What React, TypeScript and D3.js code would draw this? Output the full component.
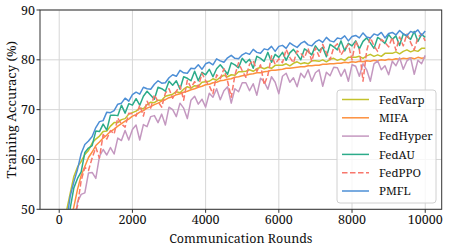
import React from "react";
import * as d3 from "d3";

// communication rounds, one point every 100 rounds
const rounds = d3.range(100, 10001, 100);

const fedVarp = [
  46, 49.7, 53.2, 56.6, 58.5, 59.6, 61.0, 61.8, 63.3, 64.1,
  64.7, 65.6, 65.7, 66.7, 67.4, 67.4, 68.0, 68.2, 69.1, 69.4,
  69.7, 70.3, 70.2, 71.0, 71.5, 71.4, 71.9, 71.9, 72.7, 72.9,
  73.1, 73.6, 73.4, 74.1, 74.6, 74.3, 74.8, 74.7, 75.5, 75.6,
  75.7, 76.2, 75.9, 76.5, 76.9, 76.6, 77.0, 76.9, 77.6, 77.6,
  77.7, 78.0, 77.7, 78.2, 78.5, 78.2, 78.5, 78.3, 78.9, 78.9,
  78.9, 79.2, 78.8, 79.3, 79.6, 79.2, 79.4, 79.2, 79.8, 79.8,
  79.7, 80.0, 79.6, 80.1, 80.3, 79.9, 80.2, 79.9, 80.5, 80.5,
  80.5, 80.7, 80.3, 80.8, 81.1, 80.7, 81.0, 80.7, 81.3, 81.3,
  81.3, 81.6, 81.2, 81.7, 82.0, 81.6, 81.9, 81.7, 82.3, 82.3,
];

const mifa = [
  40, 44, 47.5, 50.5, 54.0, 56.8, 58.6, 60.4, 61.5, 62.8,
  63.5, 64.3, 64.9, 65.6, 66.1, 66.7, 67.2, 67.7, 68.1, 68.7,
  69.0, 69.5, 69.8, 70.3, 70.6, 71.0, 71.3, 71.7, 72.0, 72.4,
  72.6, 73.0, 73.2, 73.5, 73.7, 74.0, 74.2, 74.5, 74.7, 75.0,
  75.1, 75.4, 75.5, 75.8, 75.9, 76.1, 76.2, 76.5, 76.6, 76.8,
  76.9, 77.1, 77.2, 77.4, 77.4, 77.6, 77.7, 77.9, 77.9, 78.0,
  78.1, 78.3, 78.3, 78.4, 78.5, 78.6, 78.6, 78.8, 78.8, 78.9,
  78.9, 79.1, 79.1, 79.2, 79.2, 79.3, 79.3, 79.5, 79.4, 79.6,
  79.5, 79.7, 79.6, 79.8, 79.7, 79.9, 79.8, 80.0, 79.9, 80.1,
  80.0, 80.2, 80.1, 80.3, 80.2, 80.4, 80.2, 80.5, 80.3, 80.4,
];

const fedHyper = [
  36.8, 39.0, 44.3, 45.3, 51.5, 53.0, 53.3, 57.3, 57.4, 56.2,
  60.6, 62.0, 60.9, 62.4, 61.1, 64.3, 63.8, 65.8, 63.9, 66.0,
  66.9, 63.9, 67.0, 66.6, 68.6, 68.8, 67.4, 69.1, 66.9, 70.5,
  70.0, 68.6, 71.3, 70.3, 68.2, 71.9, 72.7, 71.1, 72.1, 70.5,
  73.3, 72.5, 74.2, 72.0, 73.8, 74.6, 71.3, 74.2, 73.6, 75.4,
  75.4, 73.8, 75.2, 72.9, 76.3, 75.6, 74.1, 76.6, 75.5, 73.2,
  76.7, 77.3, 75.5, 76.4, 74.6, 77.3, 76.4, 78.0, 75.7, 77.4,
  78.0, 74.7, 77.5, 76.8, 78.5, 78.4, 76.7, 78.1, 75.7, 79.0,
  78.7, 76.7, 79.2, 78.0, 75.7, 79.2, 79.8, 78.0, 78.8, 77.0,
  79.7, 78.8, 80.4, 78.1, 79.8, 80.4, 77.1, 79.9, 79.2, 80.9,
];

const fedAU = [
  42.5, 44.8, 50.2, 54.3, 56.2, 57.5, 61.4, 62.3, 62.8, 65.7,
  65.6, 67.1, 65.9, 68.9, 68.9, 68.8, 70.9, 69.3, 71.2, 70.9,
  72.2, 70.9, 72.7, 73.7, 72.9, 72.1, 74.5, 74.2, 73.7, 75.7,
  74.9, 75.8, 74.1, 76.6, 76.3, 75.8, 77.7, 75.8, 77.5, 77.0,
  78.1, 76.6, 78.2, 79.0, 78.1, 77.1, 79.4, 79.0, 78.4, 80.3,
  79.4, 80.1, 78.3, 80.7, 80.3, 79.7, 81.5, 79.5, 81.1, 80.5,
  81.5, 79.9, 81.4, 82.1, 81.1, 80.0, 82.2, 81.7, 81.0, 82.8,
  81.8, 82.5, 80.6, 83.1, 82.6, 82.0, 83.8, 81.8, 83.3, 82.8,
  83.8, 82.2, 83.7, 84.4, 83.4, 82.3, 84.5, 84.0, 83.3, 85.1,
  84.1, 84.8, 82.9, 85.2, 84.7, 84.1, 85.7, 83.7, 85.1, 84.5,
];

const fedPPO = [
  39.0, 41.2, 47.0, 48.7, 50.7, 55.8, 58.4, 57.8, 60.3, 62.4,
  60.3, 65.0, 64.1, 65.8, 65.1, 68.3, 67.1, 66.5, 69.3, 69.2,
  68.7, 70.9, 68.7, 71.7, 70.3, 73.0, 71.6, 70.5, 73.3, 74.2,
  72.3, 73.7, 74.8, 71.9, 75.9, 74.4, 75.6, 74.5, 77.3, 75.8,
  74.8, 73.2, 77.0, 76.2, 78.2, 75.7, 72.5, 76.9, 79.4, 77.8,
  76.5, 79.1, 79.9, 77.7, 79.0, 75.0, 76.9, 80.8, 79.1, 80.2,
  79.4, 82.1, 80.5, 79.4, 81.8, 81.3, 80.4, 82.3, 79.7, 82.4,
  80.7, 83.1, 81.4, 80.0, 82.5, 83.2, 81.0, 82.2, 83.1, 80.0,
  83.8, 82.1, 75.7, 81.8, 84.5, 82.8, 81.7, 84.1, 83.5, 82.6,
  84.5, 81.9, 84.6, 82.8, 85.2, 83.5, 82.0, 84.5, 85.2, 83.8,
];

const pmfl = [
  44.3, 47.6, 52.6, 55.5, 58.0, 61.2, 63.0, 63.7, 64.6, 66.4,
  67.6, 67.8, 69.5, 69.4, 69.8, 71.1, 71.3, 72.3, 71.7, 73.0,
  73.5, 73.1, 74.5, 74.2, 74.1, 75.1, 75.8, 75.3, 75.4, 76.4,
  77.0, 76.7, 77.9, 77.4, 77.3, 78.3, 78.2, 79.0, 78.1, 79.2,
  79.5, 79.0, 80.2, 79.8, 79.5, 80.4, 80.9, 80.3, 80.2, 81.0,
  81.4, 81.1, 82.1, 81.5, 81.3, 82.2, 82.0, 82.7, 81.7, 82.7,
  82.9, 82.3, 83.4, 82.9, 82.5, 83.3, 83.7, 83.0, 82.8, 83.6,
  84.0, 83.5, 84.5, 83.8, 83.6, 84.4, 84.2, 84.8, 83.8, 84.7,
  84.9, 84.4, 85.4, 84.6, 84.4, 85.2, 84.9, 85.5, 84.4, 85.3,
  85.5, 85.0, 85.9, 85.2, 84.9, 85.7, 85.4, 86.0, 84.9, 85.8,
];

const seriesNames = ["FedVarp", "MIFA", "FedHyper", "FedAU", "FedPPO", "PMFL"];
const seriesValues = [fedVarp, mifa, fedHyper, fedAU, fedPPO, pmfl];
const seriesColors = ["#c3c22c", "#fd903e", "#c498c0", "#2cab8a", "#f8776c", "#4d8fd6"];
const xTicks = [0, 2000, 4000, 6000, 8000, 10000];
const yTicks = [50, 60, 70, 80, 90];

const W = 449;
const H = 249;
const left = 40;
const right = 441.7;
const top = 10;
const bottom = 209.3;
// no Times here: Noto Serif is the closest installed serif face
const font = "Noto Serif, DejaVu Serif, serif";
const txt = { fontFamily: font, fill: "#111" };

export default function App() {
  const x = d3.scaleLinear().domain([-525, 10450]).range([left, right]);
  const y = d3.scaleLinear().domain([50, 90]).range([bottom, top]);

  const line = d3
    .line<[number, number]>()
    .x((d) => x(d[0]))
    .y((d) => y(d[1]));

  return (
    <svg
      width={W}
      height={H}
      style={{ position: "absolute", left: 0, top: 0, background: "#fff" }}
    >
      <defs>
        <clipPath id="plot">
          <rect x={left} y={top} width={right - left} height={bottom - top} />
        </clipPath>
      </defs>

      {/* grid */}
      {xTicks.map((t) => (
        <line key={"gx" + t} x1={x(t)} x2={x(t)} y1={top} y2={bottom} stroke="#d6d6d6" strokeWidth={1} />
      ))}
      {yTicks.map((t) => (
        <line key={"gy" + t} x1={left} x2={right} y1={y(t)} y2={y(t)} stroke="#d6d6d6" strokeWidth={1} />
      ))}

      {/* series */}
      <g clipPath="url(#plot)">
        {seriesValues.map((vals, i) => (
          <path
            key={seriesNames[i]}
            d={line(vals.map((v, j) => [rounds[j], v] as [number, number])) || ""}
            fill="none"
            stroke={seriesColors[i]}
            strokeWidth={1.5}
            strokeDasharray={seriesNames[i] === "FedPPO" ? "5.5,2.5" : undefined}
            strokeLinejoin="round"
          />
        ))}
      </g>

      {/* frame */}
      <rect x={left} y={top} width={right - left} height={bottom - top} fill="none" stroke="#333" strokeWidth={1} />

      {/* x axis */}
      {xTicks.map((t) => (
        <g key={"xt" + t}>
          <line x1={x(t)} x2={x(t)} y1={bottom} y2={bottom + 3.5} stroke="#333" />
          <text x={x(t)} y={224} textAnchor="middle" fontSize={12.5} style={txt}>
            {t}
          </text>
        </g>
      ))}
      <text x={(left + right) / 2} y={243} textAnchor="middle" fontSize={12.5} style={txt}>
        Communication Rounds
      </text>

      {/* y axis */}
      {yTicks.map((t) => (
        <g key={"yt" + t}>
          <line x1={left - 3.5} x2={left} y1={y(t)} y2={y(t)} stroke="#333" />
          <text x={left - 5} y={y(t) + 4.5} textAnchor="end" fontSize={12.5} style={txt}>
            {t}
          </text>
        </g>
      ))}
      <text
        transform={`translate(16,${(top + bottom) / 2}) rotate(-90)`}
        textAnchor="middle"
        fontSize={13}
        style={txt}
      >
        Training Accuracy (%)
      </text>

      {/* legend */}
      <rect x={337} y={90} width={99} height={113} rx={3} fill="#fff" fillOpacity={0.8} stroke="#d0d0d0" />
      {seriesNames.map((name, i) => {
        const ly = 99.5 + i * 18.3;
        return (
          <g key={"lg" + name}>
            <line
              x1={342}
              x2={369}
              y1={ly}
              y2={ly}
              stroke={seriesColors[i]}
              strokeWidth={1.5}
              strokeDasharray={name === "FedPPO" ? "5.5,2.5" : undefined}
            />
            <text x={379} y={ly + 4.2} fontSize={11.5} style={txt}>
              {name}
            </text>
          </g>
        );
      })}
    </svg>
  );
}
